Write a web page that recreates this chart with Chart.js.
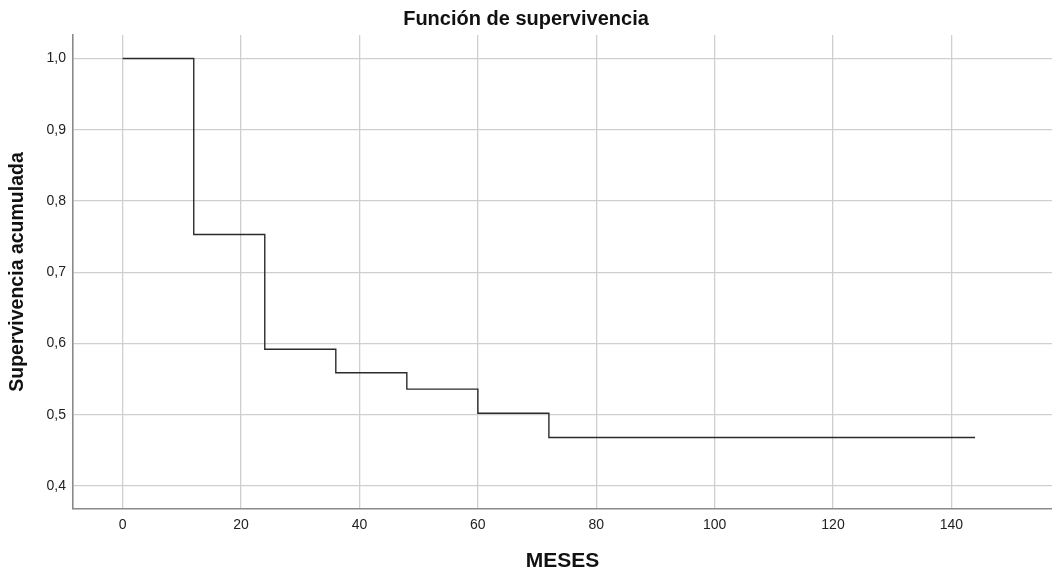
<!DOCTYPE html>
<html>
<head>
<meta charset="utf-8">
<script src="https://cdn.jsdelivr.net/npm/chart.js@4/dist/chart.umd.min.js"></script>
<style>
  html, body { margin: 0; padding: 0; background: #fff; }
  #wrap { width: 1052px; height: 574px; }
</style>
</head>
<body>
<div id="wrap"><canvas id="km"></canvas></div>
<script>
  // Kaplan-Meier: tiempo (meses) y supervivencia acumulada
  const meses = [0, 12, 24, 36, 48, 60, 72, 144];
  const supervivencia = [1.0, 0.753, 0.592, 0.559, 0.536, 0.502, 0.468, 0.468];
  const xTicks = [0, 20, 40, 60, 80, 100, 120, 140];
  const yTicks = [0.4, 0.5, 0.6, 0.7, 0.8, 0.9, 1.0];

  const FONT = '"Liberation Sans", Arial, sans-serif';
  const GRID = '#cfcfcf';
  const AXIS = '#8a8a8a';

  const points = meses.map((m, i) => ({ x: m, y: supervivencia[i] }));

  new Chart(document.getElementById('km'), {
    type: 'line',
    data: {
      datasets: [{
        data: points,
        stepped: 'before',   // caída en el instante del evento
        borderColor: '#2b2b2b',
        borderWidth: 1.4,
        pointRadius: 0,
        fill: false,
      }],
    },
    options: {
      responsive: true, maintainAspectRatio: false, animation: false,
      layout: { padding: 0 },
      plugins: {
        legend: { display: false },
        tooltip: { enabled: false },
        title: {
          display: true,
          text: 'Función de supervivencia',
          color: '#111',
          font: { family: FONT, size: 20, weight: 'bold' },
          padding: { top: 7, bottom: 4 },
        },
      },
      scales: {
        x: {
          type: 'linear', min: -8.4, max: 157,
          afterFit: s => { s.height = 65; },
          afterBuildTicks: s => { s.ticks = xTicks.map(v => ({ value: v })); },
          ticks: { color: '#222', font: { family: FONT, size: 14 }, padding: 8, maxRotation: 0 },
          grid: { color: GRID, lineWidth: 1.3, drawTicks: false },
          border: { color: AXIS, width: 1.6 },
          title: {
            display: true, text: 'MESES', color: '#111',
            font: { family: FONT, size: 21, weight: 'bold' },
            padding: { top: 0, bottom: 0 },
          },
        },
        y: {
          type: 'linear', min: 0.3677, max: 1.033,
          afterFit: s => { s.width = 73; },
          afterBuildTicks: s => { s.ticks = yTicks.map(v => ({ value: v })); },
          ticks: {
            color: '#222', font: { family: FONT, size: 14 }, padding: 7,
            callback: v => v.toFixed(1).replace('.', ','),
          },
          grid: { color: GRID, lineWidth: 1.3, drawTicks: false },
          border: { color: AXIS, width: 1.6 },
          title: {
            display: true, text: 'Supervivencia acumulada', color: '#111',
            font: { family: FONT, size: 19.5, weight: 'bold' },
            padding: { top: 6, bottom: 0 },
          },
        },
      },
    },
  });
</script>
</body>
</html>
